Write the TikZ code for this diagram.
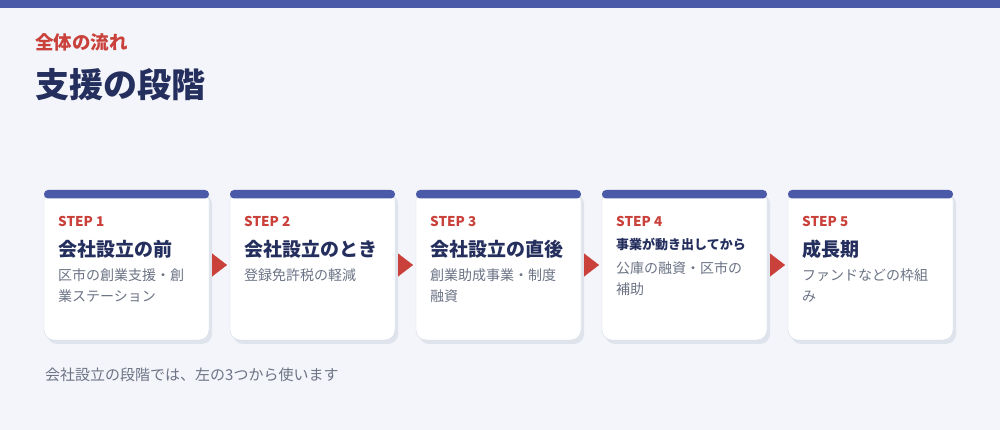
\documentclass[tikz,border=0pt]{standalone}
\usepackage{fontspec}
\setmainfont{Noto Sans CJK JP}
\usepackage{xcolor}
\usepackage{tikz}
\usetikzlibrary{positioning}
\usetikzlibrary{shadows}
\usetikzlibrary{arrows.meta}

\definecolor{bgcol}{HTML}{F4F5FA}
\definecolor{barblue}{HTML}{4A5AA8}
\definecolor{stepred}{HTML}{C9413A}
\definecolor{navy}{HTML}{252F5E}
\definecolor{descgray}{HTML}{6B7385}
\definecolor{cardline}{HTML}{D6DDE7}
\definecolor{cardshade}{HTML}{DFE4EC}

\begin{document}
\begin{tikzpicture}[x=1pt,y=1pt,
    card/.style={draw=cardline,fill=white,rounded corners=10pt,
      minimum width=165pt,minimum height=150pt,inner sep=0pt,outer sep=0pt,
      drop shadow={shadow xshift=3pt,shadow yshift=-4pt,fill=cardshade,opacity=1}},
    cardbar/.style={fill=barblue,rounded corners=4pt},
    steplbl/.style={inner sep=0pt,anchor=base west,text=stepred,
      font=\fontsize{13.5}{16}\selectfont\bfseries},
    stagetitle/.style={inner sep=0pt,anchor=base west,text=navy,
      font=\fontsize{19}{22}\selectfont\bfseries},
    stagedesc/.style={inner sep=0pt,anchor=base west,text=descgray,align=left,
      font=\fontsize{14}{21}\selectfont},
    steparrow/.style={draw=stepred,line width=0.2pt,shorten <=3pt,shorten >=3pt,
      -{Triangle[length=15pt,width=23pt]}}]
  % background and top band
  \fill[bgcol] (0,0) rectangle (1000,430);
  \fill[barblue] (0,422) rectangle (1000,430);
  \useasboundingbox (0,0) rectangle (1000,430);

  % heading
  \node[inner sep=0pt,anchor=base west,text=stepred,
    font=\fontsize{18.5}{20}\selectfont\bfseries] (kicker) at (35,380) {全体の流れ};
  \node[inner sep=0pt,anchor=base west,text=navy,
    font=\fontsize{34}{36}\selectfont\bfseries] (headline) at (35,332) {支援の段階};

  % cards
  \node[card,anchor=north west] (c1) at (44,240) {};
  \node[card,right=21pt of c1] (c2) {};
  \node[card,right=21pt of c2] (c3) {};
  \node[card,right=21pt of c3] (c4) {};
  \node[card,right=21pt of c4] (c5) {};

  \fill[cardbar] (c1.north west) rectangle ([yshift=-8.5pt]c1.north east);
  \fill[cardbar] (c2.north west) rectangle ([yshift=-8.5pt]c2.north east);
  \fill[cardbar] (c3.north west) rectangle ([yshift=-8.5pt]c3.north east);
  \fill[cardbar] (c4.north west) rectangle ([yshift=-8.5pt]c4.north east);
  \fill[cardbar] (c5.north west) rectangle ([yshift=-8.5pt]c5.north east);

  % step 1 (two-line notes sit on their last line)
  \node[steplbl] (s1) at ([shift={(14,-37)}]c1.north west) {STEP 1};
  \node[stagetitle] (t1) at ([shift={(14,-67)}]c1.north west) {会社設立の前};
  \node[stagedesc] (d1) at ([shift={(14,-112)}]c1.north west) {区市の創業支援・創\\業ステーション};
  % step 2
  \node[steplbl] (s2) at ([shift={(14,-37)}]c2.north west) {STEP 2};
  \node[stagetitle] (t2) at ([shift={(14,-67)}]c2.north west) {会社設立のとき};
  \node[stagedesc] (d2) at ([shift={(14,-91)}]c2.north west) {登録免許税の軽減};
  % step 3
  \node[steplbl] (s3) at ([shift={(14,-37)}]c3.north west) {STEP 3};
  \node[stagetitle] (t3) at ([shift={(14,-67)}]c3.north west) {会社設立の直後};
  \node[stagedesc] (d3) at ([shift={(14,-112)}]c3.north west) {創業助成事業・制度\\融資};
  % step 4
  \node[steplbl] (s4) at ([shift={(14,-37)}]c4.north west) {STEP 4};
  \node[stagetitle,font=\fontsize{13}{16}\selectfont\bfseries] (t4)
    at ([shift={(14,-60)}]c4.north west) {事業が動き出してから};
  \node[stagedesc] (d4) at ([shift={(14,-105)}]c4.north west) {公庫の融資・区市の\\補助};
  % step 5
  \node[steplbl] (s5) at ([shift={(14,-37)}]c5.north west) {STEP 5};
  \node[stagetitle] (t5) at ([shift={(14,-67)}]c5.north west) {成長期};
  \node[stagedesc] (d5) at ([shift={(14,-112)}]c5.north west) {ファンドなどの枠組\\み};

  % arrows between cards
  \draw[steparrow] (c1.east) -- (c2.west);
  \draw[steparrow] (c2.east) -- (c3.west);
  \draw[steparrow] (c3.east) -- (c4.west);
  \draw[steparrow] (c4.east) -- (c5.west);

  % note
  \node[inner sep=0pt,anchor=base west,text=descgray,
    font=\fontsize{15}{18}\selectfont] (note) at (45,49) {会社設立の段階では、左の3つから使います};
\end{tikzpicture}
\end{document}
